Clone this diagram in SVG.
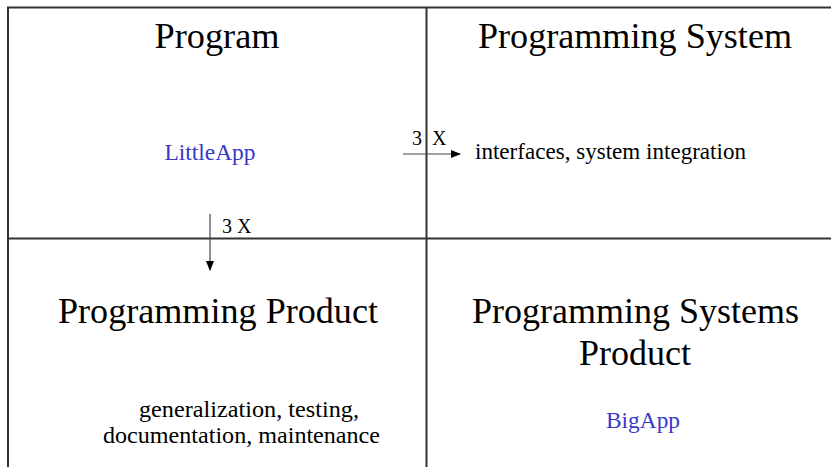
<svg xmlns="http://www.w3.org/2000/svg" width="831" height="467" viewBox="0 0 831 467">
<style>
.t{font-family:"Liberation Serif","Times New Roman",serif;fill:#000}
.h{font-size:36px;text-anchor:middle}
.s{font-size:23px}
.l{font-size:20px}
.b{fill:#3838c8}
.frame{stroke:#333;stroke-width:2;fill:none}
.arr{stroke:#444;stroke-width:1.2;fill:none}
</style>
<defs>
<marker id="ah" markerWidth="10" markerHeight="8" refX="9" refY="4" orient="auto" markerUnits="userSpaceOnUse">
<path d="M0,0 L10,4 L0,8 Z" fill="#000"/>
</marker>
</defs>
<g id="frame">
<path class="frame" d="M8,467 V7.5 H831"/>
<path class="frame" d="M426.5,7.5 V467"/>
<path class="frame" d="M8,238.5 H831"/>
</g>
<g id="program">
<text class="t h" x="217" y="48" textLength="125" lengthAdjust="spacingAndGlyphs">Program</text>
<text class="t s b" x="210" y="160" text-anchor="middle" textLength="91" lengthAdjust="spacingAndGlyphs">LittleApp</text>
</g>
<g id="programming-system">
<text class="t h" x="635" y="48" textLength="314" lengthAdjust="spacingAndGlyphs">Programming System</text>
<text class="t s" x="475" y="159" textLength="271" lengthAdjust="spacingAndGlyphs">interfaces, system integration</text>
</g>
<g id="programming-product">
<text class="t h" x="218" y="323" textLength="320" lengthAdjust="spacingAndGlyphs">Programming Product</text>
<text class="t s" x="249" y="417" text-anchor="middle" textLength="220" lengthAdjust="spacingAndGlyphs">generalization, testing,</text>
<text class="t s" x="241.5" y="443" text-anchor="middle" textLength="277" lengthAdjust="spacingAndGlyphs">documentation, maintenance</text>
</g>
<g id="programming-systems-product">
<text class="t h" x="635.5" y="323" textLength="327" lengthAdjust="spacingAndGlyphs">Programming Systems</text>
<text class="t h" x="635" y="365">Product</text>
<text class="t s b" x="643" y="428" text-anchor="middle" textLength="74" lengthAdjust="spacingAndGlyphs">BigApp</text>
</g>
<g id="connectors">
<line class="arr" x1="403" y1="154" x2="460" y2="154" marker-end="url(#ah)"/>
<text class="t l" x="412" y="145">3</text>
<text class="t l" x="432" y="145">X</text>
<line class="arr" x1="210" y1="214" x2="210" y2="270" marker-end="url(#ah)"/>
<text class="t l" x="222" y="233">3 X</text>
</g>
</svg>
